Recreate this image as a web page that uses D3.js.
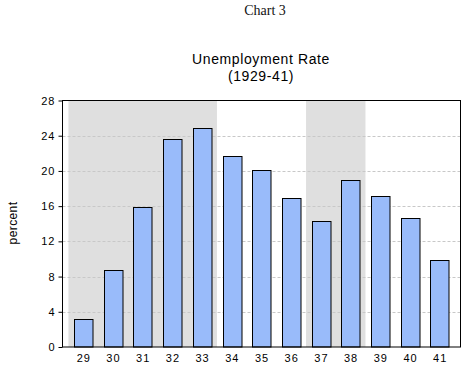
<!DOCTYPE html>
<html>
<head>
<meta charset="utf-8">
<script src="https://cdn.jsdelivr.net/npm/d3@7"></script>
<style>
  body { margin: 0; background: #fff; }
  text { font-family: "Liberation Sans", Arial, sans-serif; }
</style>
</head>
<body>
<div id="chart"></div>
<script>
// Data
const years = ["29", "30", "31", "32", "33", "34", "35", "36", "37", "38", "39", "40", "41"];
const rates = [3.2, 8.7, 15.9, 23.6, 24.9, 21.7, 20.1, 16.9, 14.3, 19.0, 17.1, 14.6, 9.9];
const yTicks = [0, 4, 8, 12, 16, 20, 24, 28];
// shaded periods (first and last year in each)
const shaded = [["29", "33"], ["37", "38"]];

let width = 469;
let height = 371;
let margin = { top: 100.5, bottom: 24, right: 8.5, left: 62.5 };

let svg = d3.select("#chart")
    .append("svg")
    .attr("width", width)
    .attr("height", height);

let x = d3.scalePoint()
    .domain(years)
    .range([margin.left, width - margin.right])
    .padding(0.7);
let step = x.step();
let barW = 18.5;

let y = d3.scaleLinear()
    .domain([0, 28])
    .range([height - margin.bottom, margin.top]);

// Titles
svg.append("text")
    .attr("x", 265).attr("y", 15)
    .attr("text-anchor", "middle")
    .style("font-family", "'Liberation Serif', 'Times New Roman', serif")
    .style("font-size", "14px")
    .attr("fill", "#111")
    .text("Chart 3");

svg.append("text")
    .attr("x", 261).attr("y", 64)
    .attr("text-anchor", "middle")
    .style("font-size", "14px")
    .style("letter-spacing", "0.6px")
    .text("Unemployment Rate");

svg.append("text")
    .attr("x", 261).attr("y", 81)
    .attr("text-anchor", "middle")
    .style("font-size", "14px")
    .style("letter-spacing", "0.6px")
    .text("(1929-41)");

// Shaded periods
svg.append("g")
    .selectAll("rect")
    .data(shaded)
    .enter()
    .append("rect")
    .attr("x", d => x(d[0]) - step / 2)
    .attr("width", d => x(d[1]) - x(d[0]) + step)
    .attr("y", y(28))
    .attr("height", y(0) - y(28))
    .attr("fill", "#dfdfdf");

// Grid lines
svg.append("g")
    .selectAll("line")
    .data(yTicks.filter(d => d > 0 && d < 28))
    .enter()
    .append("line")
    .attr("x1", margin.left)
    .attr("x2", width - margin.right)
    .attr("y1", d => Math.round(y(d)) + 0.5)
    .attr("y2", d => Math.round(y(d)) + 0.5)
    .attr("stroke", "#c8c8c8")
    .attr("stroke-dasharray", "3,2");

// Bars
svg.append("g")
    .selectAll("rect")
    .data(rates)
    .enter()
    .append("rect")
    .attr("x", (d, i) => Math.round(x(years[i]) - barW / 2) + 0.5)
    .attr("width", barW)
    .attr("y", d => Math.round(y(d)) + 0.5)
    .attr("height", d => y(0) - Math.round(y(d)) - 0.5)
    .attr("fill", "#99bbfa")
    .attr("stroke", "#000")
    .attr("stroke-width", 1);

// Frame
svg.append("rect")
    .attr("x", margin.left)
    .attr("y", margin.top)
    .attr("width", width - margin.right - margin.left)
    .attr("height", y(0) - margin.top)
    .attr("fill", "none")
    .attr("stroke", "#000");

// Y axis
svg.append("g")
    .attr("transform", "translate(" + margin.left + ",0)")
    .call(d3.axisLeft(y).tickValues(yTicks).tickSize(4).tickPadding(3))
    .call(g => g.select(".domain").remove())
    .call(g => g.selectAll("text")
        .style("font-family", "'Liberation Sans', Arial, sans-serif")
        .style("font-size", "11px")
        .style("letter-spacing", "1px")
        .attr("fill", "#000"));

// X axis labels
svg.append("g")
    .attr("transform", "translate(0," + y(0) + ")")
    .call(d3.axisBottom(x).tickSize(0).tickPadding(7))
    .call(g => g.select(".domain").remove())
    .call(g => g.selectAll("text")
        .style("font-family", "'Liberation Sans', Arial, sans-serif")
        .style("font-size", "11px")
        .style("letter-spacing", "1px")
        .attr("fill", "#000"));

// Y label
svg.append("text")
    .attr("transform", "translate(17,223) rotate(-90)")
    .attr("text-anchor", "middle")
    .style("font-size", "12px")
    .style("letter-spacing", "0.4px")
    .text("percent");
</script>
</body>
</html>
